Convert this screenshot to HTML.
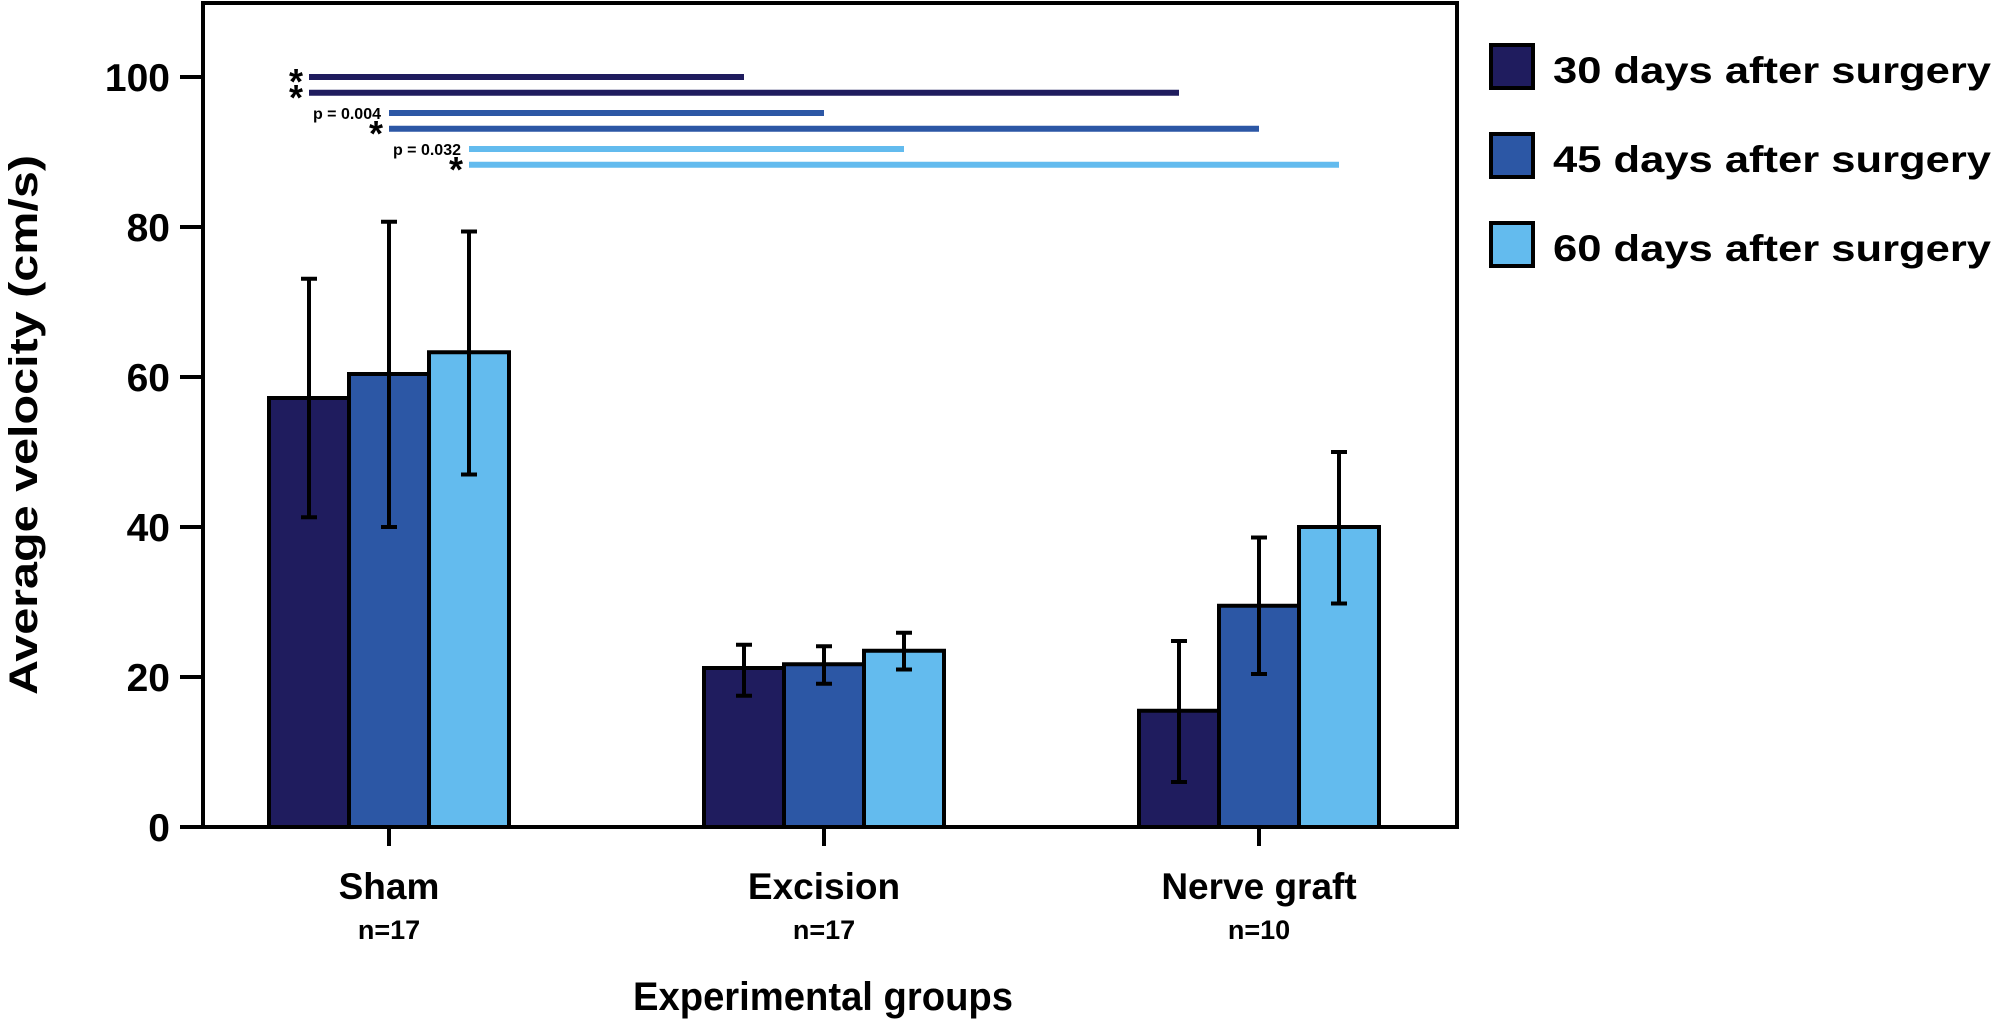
<!DOCTYPE html>
<html><head><meta charset="utf-8"><style>
html,body{margin:0;padding:0;background:#fff;}
svg{display:block;font-family:"Liberation Sans",Arial,sans-serif;font-weight:bold;}
</style></head><body>
<svg id="chart" width="2000" height="1021" viewBox="0 0 2000 1021" xmlns="http://www.w3.org/2000/svg">
<rect x="203" y="3" width="1254" height="824" fill="none" stroke="#000" stroke-width="4"/>
<g id="axes"></g>
<g id="sig"></g>
<g id="bars"></g>
<g id="legend"></g>
<text x="823" y="1010" font-size="40" text-anchor="middle" textLength="380" lengthAdjust="spacingAndGlyphs">Experimental groups</text>
<text transform="translate(37,425) rotate(-90)" font-size="40" text-anchor="middle" textLength="540" lengthAdjust="spacingAndGlyphs">Average velocity (cm/s)</text>
</svg>
<script>
const categories = ["Sham", "Excision", "Nerve graft"];
const nLabels = ["n=17", "n=17", "n=10"];
const seriesNames = ["30 days after surgery", "45 days after surgery", "60 days after surgery"];
const means30 = [57.2, 21.2, 15.5];
const means45 = [60.4, 21.7, 29.5];
const means60 = [63.3, 23.5, 40.0];
const errLow30 = [41.3, 17.5, 6.0];
const errHigh30 = [73.1, 24.3, 24.8];
const errLow45 = [40.0, 19.1, 20.4];
const errHigh45 = [80.7, 24.1, 38.6];
const errLow60 = [47.0, 21.0, 29.8];
const errHigh60 = [79.4, 25.9, 50.0];
const yTicks = [0, 20, 40, 60, 80, 100];
const sigSeries = [0, 0, 1, 1, 2, 2];
const sigFrom = [0, 0, 0, 0, 0, 0];
const sigTo = [1, 2, 1, 2, 1, 2];
const sigLabels = ["*", "*", "p = 0.004", "*", "p = 0.032", "*"];
const sigY = [100, 97.9, 95.2, 93.1, 90.4, 88.3];

const colors = ["#1f1c5e", "#2c57a5", "#63bbee"];
const NS = "http://www.w3.org/2000/svg";
const y0 = 827, pxPerUnit = 7.5;
const yScale = v => y0 - v * pxPerUnit;
const groupCenter = i => 389 + i * 435;
const barW = 80;
const barX = (g, s) => groupCenter(g) - 1.5 * barW + s * barW;
function mk(tag, attrs, parent) {
  const e = document.createElementNS(NS, tag);
  for (const k in attrs) e.setAttribute(k, attrs[k]);
  parent.appendChild(e);
  return e;
}
const axes = document.getElementById('axes');
yTicks.forEach(t => {
  const l = mk('line', {x1: 180, x2: 203, y1: yScale(t), y2: yScale(t), stroke: '#000', 'stroke-width': 4}, axes);
  
  
  const tx = mk('text', {x: 170, y: yScale(t) + 14, 'font-size': 39, 'text-anchor': 'end'}, axes);
  
  
  tx.textContent = t;
});
categories.forEach((c, i) => {
  const l = mk('line', {x1: groupCenter(i), x2: groupCenter(i), y1: 827, y2: 846, stroke: '#000', 'stroke-width': 4}, axes);
  
  
  const tx = mk('text', {x: groupCenter(i), y: 899, 'font-size': 37, 'text-anchor': 'middle'}, axes);
  
  
  tx.textContent = c;
  const nx = mk('text', {x: groupCenter(i), y: 939, 'font-size': 27, 'text-anchor': 'middle'}, axes);
  
  
  nx.textContent = nLabels[i];
});
const means = [means30, means45, means60];
const lows = [errLow30, errLow45, errLow60];
const highs = [errHigh30, errHigh45, errHigh60];
const bars = document.getElementById('bars');
categories.forEach((c, g) => {
  for (let s = 0; s < 3; s++) {
    const r = mk('rect', {x: barX(g, s), y: yScale(means[s][g]), width: barW, height: y0 - yScale(means[s][g]), fill: colors[s], stroke: '#000', 'stroke-width': 4}, bars);
    
    
    const cx = barX(g, s) + barW / 2;
    const e = mk('path', {d: `M${cx-8},${yScale(highs[s][g])}H${cx+8}M${cx},${yScale(highs[s][g])}V${yScale(lows[s][g])}M${cx-8},${yScale(lows[s][g])}H${cx+8}`, stroke: '#000', 'stroke-width': 4, fill: 'none'}, bars);
    
    
  }
});
const sig = document.getElementById('sig');
sigY.forEach((v, i) => {
  const s = sigSeries[i];
  const x1 = barX(sigFrom[i], s) + barW / 2, x2 = barX(sigTo[i], s) + barW / 2;
  const y = yScale(v);
  const l = mk('line', {x1: x1, x2: x2, y1: y, y2: y, stroke: colors[s], 'stroke-width': 6}, sig);
  
  
  const lab = sigLabels[i];
  const t = mk('text', lab === '*' ? {x: x1 - 6, y: y + 17, 'font-size': 36, 'text-anchor': 'end'} : {x: x1 - 8, y: y + 6, 'font-size': 16, 'text-anchor': 'end'}, sig);
  
  
  t.textContent = lab;
});
const legend = document.getElementById('legend');
seriesNames.forEach((n, i) => {
  const y = 45 + i * 89;
  const r = mk('rect', {x: 1491, y: y, width: 42, height: 43, fill: colors[i], stroke: '#000', 'stroke-width': 4}, legend);
  
  
  const t = mk('text', {x: 1553, y: y + 38, 'font-size': 37, textLength: 438, lengthAdjust: 'spacingAndGlyphs'}, legend);
  
  
  t.textContent = n;
});
</script>
</body></html>
